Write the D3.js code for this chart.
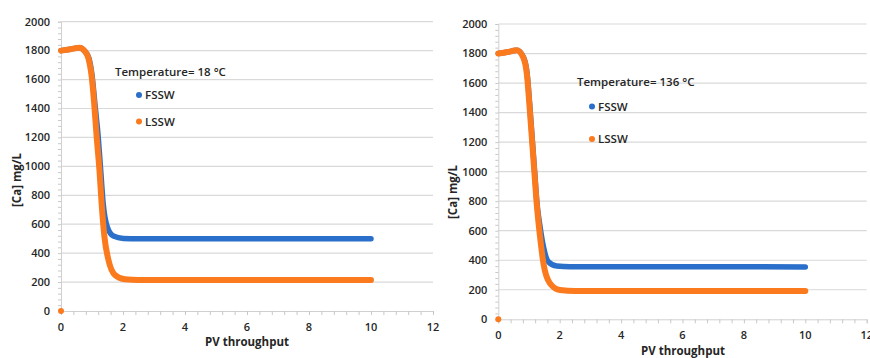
<!DOCTYPE html>
<html>
<head>
<meta charset="utf-8">
<script src="https://cdn.jsdelivr.net/npm/d3@7"></script>
<style>
  html, body { margin: 0; padding: 0; background: #fff; }
  svg { display: block; }
  text { font-family: "Open Sans", "Noto Sans", sans-serif; }
</style>
</head>
<body>
<svg id="chart" width="870" height="358"></svg>
<script>
// Axis ticks (shared by both panels)
const xTicks = [0, 2, 4, 6, 8, 10, 12];
const yTicks = [0, 200, 400, 600, 800, 1000, 1200, 1400, 1600, 1800, 2000];
const seriesNames = ["FSSW", "LSSW"];

// Panel titles
const tempLeft = "Temperature= 18 °C";
const tempRight = "Temperature= 136 °C";

// 18 °C — FSSW
const pvLeftFSSW = [0, 0.3, 0.6, 0.75, 0.9, 1.0, 1.1, 1.2, 1.28, 1.36, 1.49, 1.69, 2.01, 2.5, 10];
const caLeftFSSW = [1800, 1810, 1820, 1800, 1748, 1630, 1420, 1205, 975, 745, 583, 518, 502, 500, 500];
// 18 °C — LSSW (first point is the lone sample at the origin)
const pvLeftLSSW = [0, 0, 0.3, 0.6, 0.75, 0.88, 0.99, 1.07, 1.15, 1.24, 1.31, 1.40, 1.53, 1.74, 2.06, 2.5, 10];
const caLeftLSSW = [0, 1800, 1810, 1820, 1800, 1750, 1620, 1436, 1205, 975, 745, 514, 353, 249, 219, 215, 215];

// 136 °C — FSSW
const pvRightFSSW = [0, 0.3, 0.6, 0.82, 0.94, 1.02, 1.1, 1.18, 1.26, 1.36, 1.47, 1.63, 1.90, 2.34, 10];
const caRightFSSW = [1800, 1810, 1822, 1775, 1662, 1463, 1237, 1011, 786, 627, 492, 390, 361, 356, 355];
// 136 °C — LSSW
const pvRightLSSW = [0, 0, 0.3, 0.6, 0.81, 0.93, 1.01, 1.09, 1.17, 1.25, 1.36, 1.47, 1.68, 2.01, 2.5, 10];
const caRightLSSW = [0, 1800, 1810, 1822, 1775, 1662, 1463, 1237, 1011, 786, 559, 379, 244, 198, 192, 192];

const colors = { FSSW: "#2a6fc9", LSSW: "#fb7a1e" };

const svg = d3.select("#chart");

function drawPanel(cfg) {
  const x = d3.scaleLinear().domain([0, 12]).range([cfg.x0, cfg.x1]);
  const y = d3.scaleLinear().domain([0, 2000]).range([cfg.y0, cfg.y1]);
  const g = svg.append("g");

  // horizontal gridlines
  g.append("g").selectAll("line").data(yTicks.filter(d => d > 0)).join("line")
    .attr("x1", cfg.x0).attr("x2", cfg.x1)
    .attr("y1", d => y(d)).attr("y2", d => y(d))
    .attr("stroke", "#d9d9d9").attr("stroke-width", 1.2);

  // y axis with minor ticks
  const yAxis = g.append("g").attr("transform", `translate(${cfg.x0},0)`)
    .call(d3.axisLeft(y).tickValues(d3.range(0, 2001, 40)).tickSize(3).tickFormat(""));
  yAxis.select(".domain").attr("stroke", "#d0d0d0");
  yAxis.selectAll(".tick line").attr("stroke", "#c8c8c8");

  // x axis with minor ticks
  const xAxis = g.append("g").attr("transform", `translate(0,${cfg.y0})`)
    .call(d3.axisBottom(x).tickValues(d3.range(0, 12.01, 0.4)).tickSize(4).tickFormat(""));
  xAxis.select(".domain").attr("stroke", "#d0d0d0");
  xAxis.selectAll(".tick line").attr("stroke", "#c8c8c8");

  // tick labels
  g.append("g").selectAll("text").data(yTicks).join("text")
    .attr("x", cfg.x0 - 11).attr("y", d => y(d)).attr("dy", "0.35em")
    .attr("text-anchor", "end").attr("font-size", 11).attr("font-weight", 600)
    .attr("fill", "#262626").text(d => d);
  g.append("g").selectAll("text").data(xTicks).join("text")
    .attr("x", d => x(d)).attr("y", cfg.y0 + 16).attr("dy", "0.35em")
    .attr("text-anchor", "middle").attr("font-size", 11).attr("font-weight", 600)
    .attr("fill", "#262626").text(d => d);

  // axis titles
  g.append("text")
    .attr("transform", `translate(${cfg.yTitleX},${cfg.yTitleY}) rotate(-90)`)
    .attr("text-anchor", "middle").attr("dy", "0.35em")
    .attr("font-size", 11.5).attr("font-weight", 700).attr("fill", "#262626")
    .text("[Ca] mg/L");
  g.append("text")
    .attr("x", cfg.xTitleX).attr("y", cfg.xTitleY).attr("dy", "0.35em")
    .attr("text-anchor", "middle")
    .attr("font-size", 11.5).attr("font-weight", 700).attr("fill", "#262626")
    .text("PV throughput");

  const line = d3.line().x(d => x(d[0])).y(d => y(d[1])).curve(d3.curveMonotoneX);

  // FSSW under LSSW
  const fssw = d3.zip(cfg.fsswPV, cfg.fsswCa);
  g.append("path").datum(fssw).attr("d", line)
    .attr("fill", "none").attr("stroke", colors.FSSW)
    .attr("stroke-width", 5.5).attr("stroke-linecap", "round").attr("stroke-linejoin", "round");

  const lssw = d3.zip(cfg.lsswPV, cfg.lsswCa);
  g.append("path").datum(lssw.slice(1)).attr("d", line)
    .attr("fill", "none").attr("stroke", colors.LSSW)
    .attr("stroke-width", 6).attr("stroke-linecap", "round").attr("stroke-linejoin", "round");
  g.append("circle")
    .attr("cx", x(lssw[0][0])).attr("cy", y(lssw[0][1])).attr("r", 3)
    .attr("fill", colors.LSSW);

  // legend
  g.append("text").attr("x", cfg.legX).attr("y", cfg.legY).attr("dy", "0.35em")
    .attr("font-size", 11.5).attr("font-weight", 600).attr("fill", "#262626")
    .text(cfg.title);
  seriesNames.forEach((name, i) => {
    const ly = cfg.legY + cfg.legFirst + cfg.legGap * i;
    g.append("circle").attr("cx", cfg.dotX).attr("cy", ly).attr("r", 3).attr("fill", colors[name]);
    g.append("text").attr("x", cfg.dotX + 6).attr("y", ly).attr("dy", "0.35em")
      .attr("font-size", 11.5).attr("font-weight", 600).attr("fill", "#262626").text(name);
  });
}

drawPanel({
  x0: 61, x1: 433, y0: 311, y1: 21.7,
  yTitleX: 17, yTitleY: 180, xTitleX: 247, xTitleY: 342,
  fsswPV: pvLeftFSSW, fsswCa: caLeftFSSW, lsswPV: pvLeftLSSW, lsswCa: caLeftLSSW,
  title: tempLeft, legX: 115, legY: 72, dotX: 139, legFirst: 23, legGap: 26.5
});
drawPanel({
  x0: 498.3, x1: 866.7, y0: 319.3, y1: 24,
  yTitleX: 453, yTitleY: 192, xTitleX: 683, xTitleY: 351,
  fsswPV: pvRightFSSW, fsswCa: caRightFSSW, lsswPV: pvRightLSSW, lsswCa: caRightLSSW,
  title: tempRight, legX: 577, legY: 82, dotX: 592, legFirst: 24.5, legGap: 32.5
});
</script>
</body>
</html>
